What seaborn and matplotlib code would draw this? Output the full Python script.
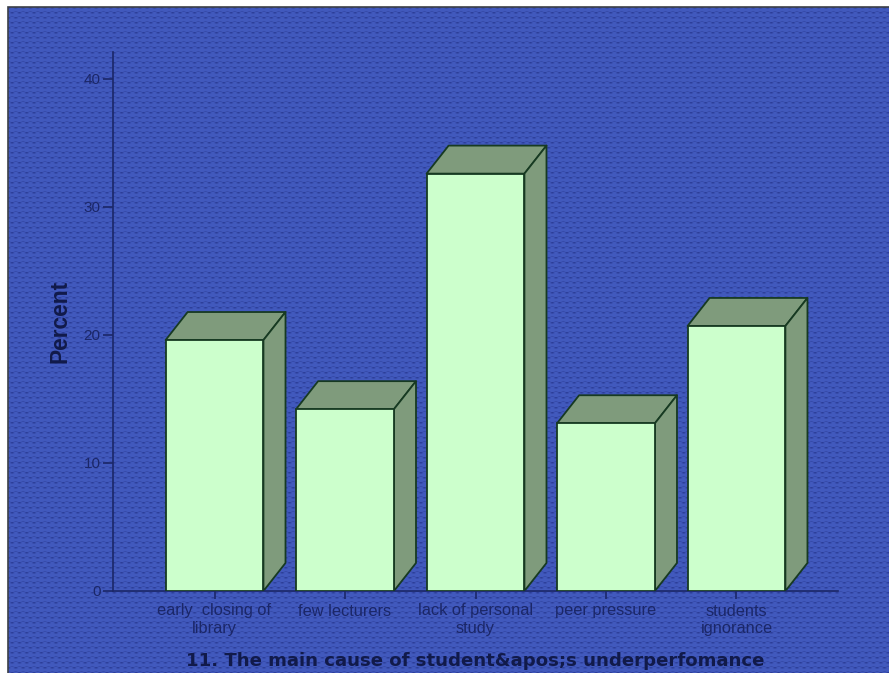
import numpy as np
import matplotlib
matplotlib.use("Agg")
import matplotlib.pyplot as plt
from matplotlib.patches import Polygon, Rectangle
import seaborn as sns

categories = ["early  closing of\nlibrary", "few lecturers", "lack of personal\nstudy",
              "peer pressure", "students\nignorance"]
percent = [19.6, 14.2, 32.6, 13.1, 20.7]
y_ticks = [0, 10, 20, 30, 40]
x_title = "11. The main cause of student&apos;s underperfomance"
y_title = "Percent"

FRONT = "#ccffcc"
SHADE = "#7f9b7c"
EDGE = "#173a22"
INK = "#1b2768"
DEPTH_X = 0.169
DEPTH_Y = 2.19

sns.set_theme(style="white")
plt.rcParams["font.family"] = ["Liberation Sans", "DejaVu Sans"]

W, H = 889, 673
fig = plt.figure(figsize=(W / 100, H / 100), dpi=100, facecolor="white")

# Dotted blue backdrop filling the frame
yy, xx = np.mgrid[0:H - 7, 0:W - 8]
row = np.floor(yy / 5.0)
dots = (0.5 + 0.5 * np.cos(2 * np.pi * (xx / 7.3 + row / 2))) * (0.5 + 0.5 * np.cos(2 * np.pi * yy / 5.0))
base = np.array([66, 90, 190], dtype=float)
dark = np.array([44, 62, 152], dtype=float)
tile = base + (dark - base) * dots[..., None] ** 1.5
fig.figimage(tile.astype(np.uint8), xo=8, yo=0, origin="upper", zorder=-5)
fig.add_artist(Rectangle((7.5 / W, -0.01), 1, 1 - 6.5 / H + 0.01, transform=fig.transFigure,
                         fill=False, edgecolor="#3c4048", linewidth=1.2))

ax = fig.add_axes([113 / W, (H - 591) / H, (838 - 113) / W, (591 - 52) / H])
ax.patch.set_alpha(0)

sns.barplot(x=categories, y=percent, color=FRONT, saturation=1, width=0.75,
            edgecolor=EDGE, linewidth=1.3, ax=ax, zorder=3)
ax.set_xlim(-0.778, 4.778)
ax.set_ylim(0, 42.1)

# Extruded top and side faces built from each bar's own rectangle
for bar in ax.containers[0]:
    x0, x1 = bar.get_x(), bar.get_x() + bar.get_width()
    top = bar.get_height()
    ax.add_patch(Polygon([(x0, top), (x0 + DEPTH_X, top + DEPTH_Y), (x1 + DEPTH_X, top + DEPTH_Y), (x1, top)],
                         facecolor=SHADE, edgecolor=EDGE, linewidth=1.3, joinstyle="round", zorder=2.5))
    ax.add_patch(Polygon([(x1, 0), (x1 + DEPTH_X, DEPTH_Y), (x1 + DEPTH_X, top + DEPTH_Y), (x1, top)],
                         facecolor=SHADE, edgecolor=EDGE, linewidth=1.3, joinstyle="round", zorder=2.5))

sns.despine(ax=ax)
for side in ("left", "bottom"):
    ax.spines[side].set_color(INK)
    ax.spines[side].set_linewidth(1.2)

ax.set_yticks(y_ticks)
ax.tick_params(axis="y", length=7, width=1.2, color=INK, labelcolor=INK, labelsize=11, pad=2, left=True)
ax.tick_params(axis="x", length=6, width=1.2, color=INK, labelcolor=INK, labelsize=11.8, pad=3, bottom=True)
for label in ax.get_xticklabels():
    label.set_linespacing(1.18)

ax.set_xlabel(x_title, fontsize=13.1, fontweight="bold", color="#111a4a", family="DejaVu Sans")
ax.xaxis.set_label_coords(0.5, -(661 - 591) / (591 - 52), transform=ax.transAxes)
ax.xaxis.label.set_verticalalignment("center")
ax.set_ylabel(y_title, fontsize=16.4, fontweight="bold", color="#111a4a")
ax.yaxis.set_label_coords((60 - 113) / (838 - 113), (591 - 321) / (591 - 52), transform=ax.transAxes)
ax.yaxis.label.set_verticalalignment("center")

fig.savefig("out.png", dpi=100, facecolor="white")
